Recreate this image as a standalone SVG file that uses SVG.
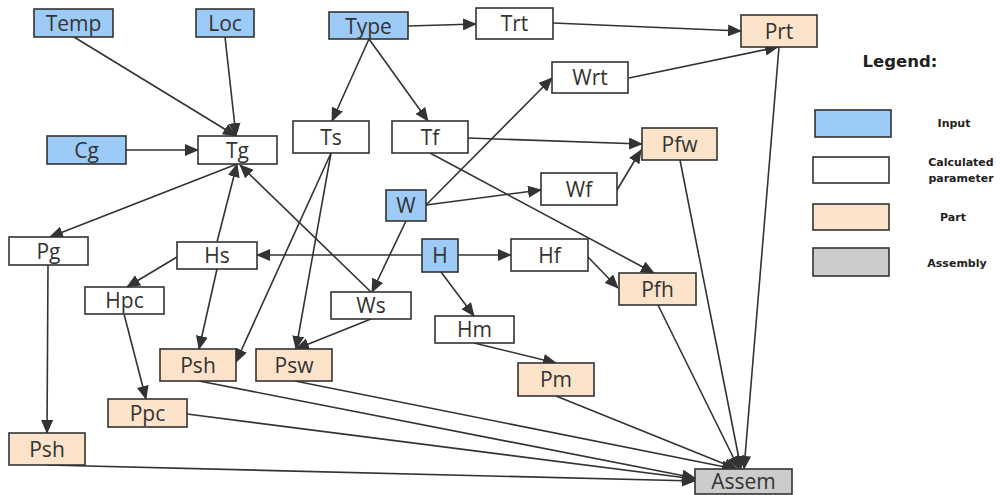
<svg xmlns="http://www.w3.org/2000/svg" width="1000" height="495" viewBox="0 0 1000 495">
  <style>
    .node rect { stroke: #333; stroke-width: 1.6; }
    .input rect { fill: #9dcbf8; }
    .calc rect { fill: #ffffff; }
    .part rect { fill: #fde3c9; }
    .asm rect { fill: #cccccc; }
    .node text { font-family: "Open Sans", "Noto Sans", sans-serif; font-size: 21px; fill: #333; text-anchor: middle; }
    .edges path { fill: none; stroke: #333; stroke-width: 1.6; marker-end: url(#arrow); }
    .legend text { font-family: "DejaVu Sans", Verdana, sans-serif; font-weight: bold; fill: #222; text-anchor: middle; }
  </style>
  <defs>
    <marker id="arrow" markerUnits="userSpaceOnUse" markerWidth="14" markerHeight="12" viewBox="0 0 14 12" refX="13" refY="6" orient="auto">
      <path d="M0,0 L14,6 L0,12 Z" fill="#333"/>
    </marker>
  </defs>
  <rect width="1000" height="495" fill="#ffffff"/>

  <g id="connectors" class="edges">
    <path d="M74,37 L236,136"/>
    <path d="M225,37 L236,136"/>
    <path d="M126,150 L198,150"/>
    <path d="M369,39 L332,121"/>
    <path d="M369,39 L428,121"/>
    <path d="M408,26 L476,24"/>
    <path d="M553,23 L741,31"/>
    <path d="M629,78 L778,47"/>
    <path d="M426,205 L552,78"/>
    <path d="M426,205 L541,190"/>
    <path d="M468,138 L642,144"/>
    <path d="M617,190 L641,150"/>
    <path d="M430,153 L654,273"/>
    <path d="M237,164 L50,237"/>
    <path d="M217,242 L237,164"/>
    <path d="M371,292 L240,165"/>
    <path d="M331,153 L236,362"/>
    <path d="M331,153 L296,349"/>
    <path d="M422,255 L257,255"/>
    <path d="M458,255 L511,255"/>
    <path d="M406,221 L372,292"/>
    <path d="M441,272 L474,316"/>
    <path d="M177,257 L127,287"/>
    <path d="M217,269 L199,349"/>
    <path d="M124,314 L146,399"/>
    <path d="M48,265 L47,433"/>
    <path d="M371,319 L296,349"/>
    <path d="M474,343 L556,363"/>
    <path d="M588,257 L618,288"/>
    <path d="M779,47 L744,469"/>
    <path d="M680,160 L741,469"/>
    <path d="M658,305 L739,469"/>
    <path d="M556,396 L737,469"/>
    <path d="M295,381 L735,469"/>
    <path d="M199,381 L695,478"/>
    <path d="M187,414 L695,479"/>
    <path d="M47,465 L695,481"/>
  </g>

  <g id="Temp" class="node input"><rect x="34" y="9" width="79" height="28"/><text x="73.5" y="31">Temp</text></g>
  <g id="Loc" class="node input"><rect x="196" y="9" width="58" height="28"/><text x="225" y="31">Loc</text></g>
  <g id="Type" class="node input"><rect x="329" y="12" width="79" height="27"/><text x="368.5" y="33.5">Type</text></g>
  <g id="Trt" class="node calc"><rect x="476" y="8" width="77" height="31"/><text x="514.5" y="31">Trt</text></g>
  <g id="Prt" class="node part"><rect x="741" y="15" width="76" height="32"/><text x="779" y="38.5">Prt</text></g>
  <g id="Wrt" class="node calc"><rect x="552" y="62" width="76" height="31"/><text x="590" y="85">Wrt</text></g>
  <g id="Pfw" class="node part"><rect x="642" y="128" width="75" height="32"/><text x="679.5" y="151.5">Pfw</text></g>
  <g id="Wf" class="node calc"><rect x="541" y="173" width="76" height="32"/><text x="579" y="196.5">Wf</text></g>
  <g id="Ts" class="node calc"><rect x="293" y="121" width="76" height="32"/><text x="331" y="144.5">Ts</text></g>
  <g id="Tf" class="node calc"><rect x="392" y="121" width="76" height="32"/><text x="430" y="144.5">Tf</text></g>
  <g id="Tg" class="node calc"><rect x="198" y="136" width="79" height="28"/><text x="237.5" y="157.5">Tg</text></g>
  <g id="Cg" class="node input"><rect x="47" y="136" width="79" height="28"/><text x="86.5" y="157.5">Cg</text></g>
  <g id="W" class="node input"><rect x="386" y="190" width="40" height="31"/><text x="406" y="213">W</text></g>
  <g id="H" class="node input"><rect x="422" y="239" width="36" height="33"/><text x="440" y="263">H</text></g>
  <g id="Pg" class="node calc"><rect x="9" y="237" width="79" height="28"/><text x="48.5" y="258.5">Pg</text></g>
  <g id="Hs" class="node calc"><rect x="177" y="242" width="80" height="27"/><text x="217" y="263">Hs</text></g>
  <g id="Hpc" class="node calc"><rect x="85" y="287" width="79" height="27"/><text x="124.5" y="308">Hpc</text></g>
  <g id="Ws" class="node calc"><rect x="331" y="292" width="80" height="27"/><text x="371" y="313">Ws</text></g>
  <g id="Hm" class="node calc"><rect x="435" y="316" width="79" height="27"/><text x="474.5" y="337">Hm</text></g>
  <g id="Hf" class="node calc"><rect x="511" y="239" width="77" height="32"/><text x="549.5" y="262.5">Hf</text></g>
  <g id="Pfh" class="node part"><rect x="619" y="273" width="77" height="32"/><text x="657.5" y="296.5">Pfh</text></g>
  <g id="Psh" class="node part"><rect x="160" y="349" width="76" height="32"/><text x="198" y="372.5">Psh</text></g>
  <g id="Psw" class="node part"><rect x="256" y="349" width="76" height="32"/><text x="294" y="372.5">Psw</text></g>
  <g id="Pm" class="node part"><rect x="518" y="363" width="76" height="33"/><text x="556" y="387">Pm</text></g>
  <g id="Ppc" class="node part"><rect x="108" y="399" width="79" height="28"/><text x="147.5" y="420.5">Ppc</text></g>
  <g id="Psh2" class="node part"><rect x="9" y="433" width="76" height="32"/><text x="47" y="456.5">Psh</text></g>
  <g id="Assem" class="node asm"><rect x="695" y="469" width="97" height="25"/><text x="743.5" y="489">Assem</text></g>

  <g id="legend" class="legend">
    <text x="900" y="67" font-size="16.5">Legend:</text>
    <g class="node input"><rect x="815" y="110" width="76" height="27"/></g>
    <text x="954" y="127" font-size="11">Input</text>
    <g class="node calc"><rect x="813" y="157" width="76" height="26"/></g>
    <text x="961" y="166" font-size="11">Calculated</text>
    <text x="961" y="182" font-size="11">parameter</text>
    <g class="node part"><rect x="813" y="204" width="76" height="26"/></g>
    <text x="953" y="221" font-size="11">Part</text>
    <g class="node asm"><rect x="813" y="248" width="76" height="28"/></g>
    <text x="957" y="267" font-size="11">Assembly</text>
  </g>
</svg>
